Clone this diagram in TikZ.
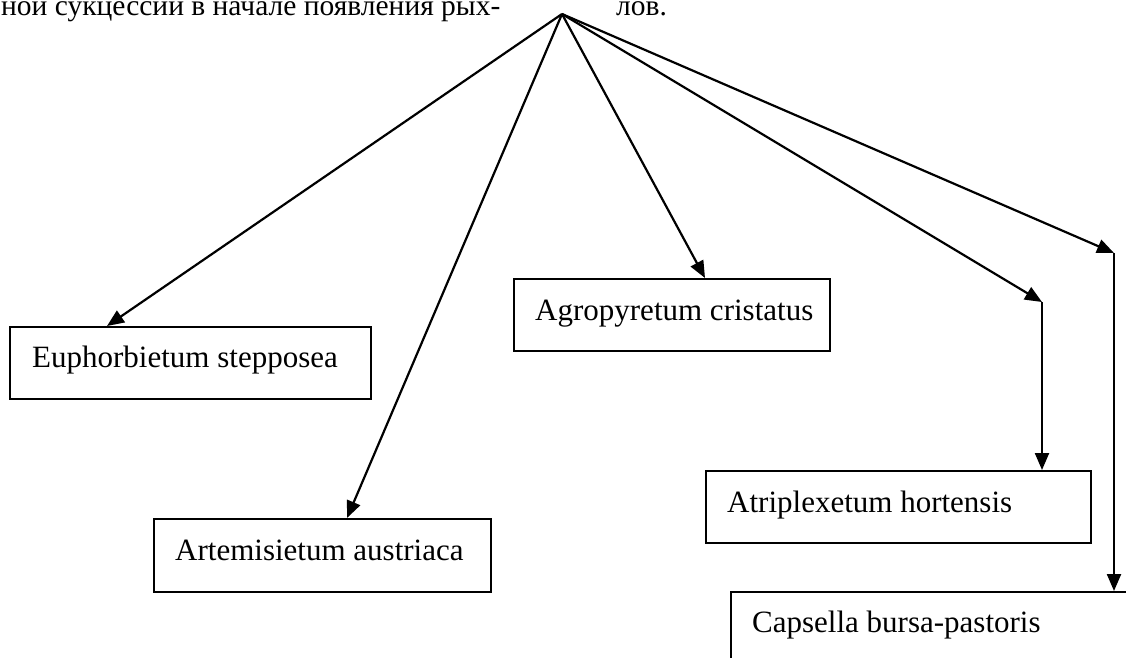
\documentclass[tikz,border=0pt]{standalone}
\usepackage{fontspec}
\setmainfont{Liberation Serif}
\usetikzlibrary{arrows.meta,calc}
\tikzset{
  box/.style={draw, line width=2pt, inner sep=0pt, anchor=north west},
  lbl/.style={inner sep=0pt, anchor=base west, font=\fontsize{31}{36}\selectfont},
  toplbl/.style={inner sep=0pt, anchor=base west, font=\fontsize{29.5}{34}\selectfont},
  conn/.style={line width=2.2pt, -{Triangle[length=17pt,width=14pt]}}
}
\begin{document}
\begin{tikzpicture}[x=1pt,y=-1pt]
\useasboundingbox (0,0) rectangle (1126,657);
\clip (0,0) rectangle (1126,657);
\fill[white] (0,0) rectangle (1126,657);
% top text
\node[toplbl] (t1) at (1,15) {ной сукцессии в начале появления рых-};
\node[toplbl] (t2) at (616,15) {лов.};
\coordinate (apex) at (562,14);
% boxes
\node[box, minimum width=361pt, minimum height=72pt] (eu) at (9,326) {};
\node[lbl] (eut) at (32,367) {Euphorbietum stepposea};
\node[box, minimum width=337pt, minimum height=73pt] (ar) at (153,518) {};
\node[lbl] (art) at (175,560) {Artemisietum austriaca};
\node[box, minimum width=316pt, minimum height=72pt] (ag) at (513,278) {};
\node[lbl] (agt) at (535,320) {Agropyretum cristatus};
\node[box, minimum width=385pt, minimum height=72pt] (at) at (705,470) {};
\node[lbl] (att) at (727,512) {Atriplexetum hortensis};
\node[box, minimum width=420pt, minimum height=100pt] (ca) at (730,591) {};
\node[lbl] (cat) at (752,632) {Capsella bursa-pastoris};
% bend points
\coordinate (b1) at (1042,302);
\coordinate (b2) at (1114,253);
% connectors
\draw[conn] (apex) -- ($(eu.north west)+(98,0)$);
\draw[conn] (apex) -- ($(ar.north west)+(194,0)$);
\draw[conn] (apex) -- ($(ag.north west)+(192,0)$);
\draw[conn] (apex) -- (b1);
\draw[conn] (b1) -- ($(at.north west)+(337,0)$);
\draw[conn] (apex) -- (b2);
\draw[conn] (b2) -- ($(ca.north west)+(384,0)$);
\end{tikzpicture}
\end{document}
